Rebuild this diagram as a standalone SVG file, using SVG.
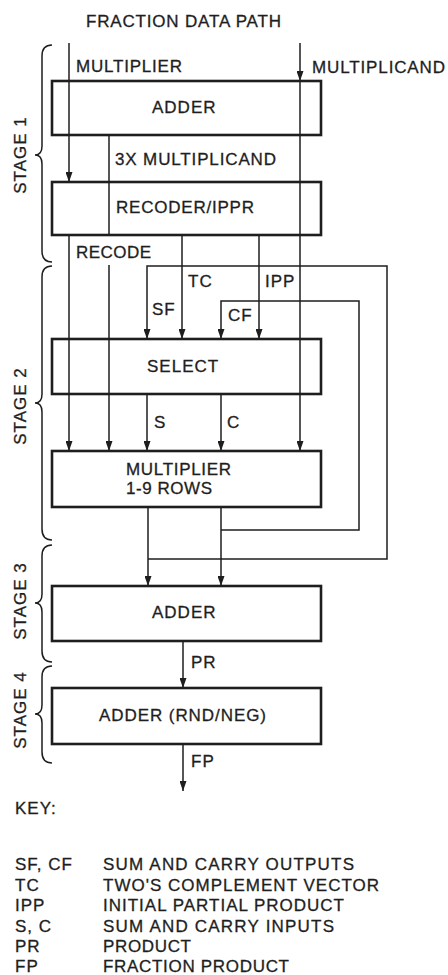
<svg xmlns="http://www.w3.org/2000/svg" width="448" height="975" viewBox="0 0 448 975">
<style>
text{font-family:"Liberation Sans",Arial,Helvetica,sans-serif;font-size:17px;fill:#1e1e1e;stroke:#1e1e1e;stroke-width:0.3;letter-spacing:1px}
.box{fill:none;stroke:#1e1e1e;stroke-width:2.6}
.ln{fill:none;stroke:#1e1e1e;stroke-width:1.5}
.ar{fill:none;stroke:#1e1e1e;stroke-width:1.5;marker-end:url(#ah)}
.br{fill:none;stroke:#1e1e1e;stroke-width:1.5}
</style>
<defs>
<marker id="ah" viewBox="0 0 10 7" refX="10" refY="3.5" markerWidth="10" markerHeight="7" markerUnits="userSpaceOnUse" orient="auto"><path d="M0,0 L10,3.5 L0,7 z" fill="#1e1e1e"/></marker>
</defs>
<rect width="448" height="975" fill="#ffffff"/>
<text x="86" y="27" textLength="196" lengthAdjust="spacing">FRACTION DATA PATH</text>

<g id="connectors">
<line class="ar" x1="69" y1="43" x2="69" y2="182"/>
<line class="ar" x1="300" y1="43" x2="300" y2="81"/>
<line class="ar" x1="300" y1="81" x2="300" y2="451"/>
<line class="ln" x1="109" y1="135" x2="109" y2="235"/>
<line class="ar" x1="69" y1="235" x2="69" y2="451"/>
<line class="ar" x1="109" y1="265" x2="109" y2="451"/>
<line class="ar" x1="182" y1="235" x2="182" y2="339"/>
<line class="ar" x1="259" y1="235" x2="259" y2="339"/>
<path class="ar" d="M148,559 L387,559 L387,266 L147,266 L147,339"/>
<path class="ar" d="M221,530 L359,530 L359,301 L221,301 L221,339"/>
<line class="ar" x1="147" y1="394" x2="147" y2="451"/>
<line class="ar" x1="221" y1="394" x2="221" y2="451"/>
<line class="ar" x1="148" y1="507" x2="148" y2="586"/>
<line class="ar" x1="221" y1="507" x2="221" y2="586"/>
<line class="ar" x1="183" y1="641" x2="183" y2="688"/>
<line class="ar" x1="183" y1="744" x2="183" y2="791"/>
<text x="76" y="72" textLength="107" lengthAdjust="spacing">MULTIPLIER</text>
<text x="312" y="73" textLength="134" lengthAdjust="spacing">MULTIPLICAND</text>
<text x="115" y="165" textLength="162" lengthAdjust="spacing">3X MULTIPLICAND</text>
<text x="76" y="258" textLength="76" lengthAdjust="spacing">RECODE</text>
<text x="188" y="287">TC</text>
<text x="265" y="287">IPP</text>
<text x="152" y="315">SF</text>
<text x="228" y="321">CF</text>
<text x="154" y="428">S</text>
<text x="227" y="428">C</text>
<text x="191" y="668">PR</text>
<text x="191" y="767">FP</text>
</g>

<g id="adder1">
<rect class="box" x="52" y="81" width="269" height="54"/>
<text x="152" y="113">ADDER</text>
</g>
<g id="recoder">
<rect class="box" x="52" y="182" width="269" height="53"/>
<text x="116" y="213" textLength="139" lengthAdjust="spacing">RECODER/IPPR</text>
</g>
<g id="select">
<rect class="box" x="52" y="339" width="269" height="55"/>
<text x="147" y="372">SELECT</text>
</g>
<g id="multrows">
<rect class="box" x="52" y="451" width="269" height="56"/>
<text x="126" y="475" textLength="106" lengthAdjust="spacing">MULTIPLIER</text>
<text x="126" y="494" textLength="87" lengthAdjust="spacing">1-9 ROWS</text>
</g>
<g id="adder3">
<rect class="box" x="52" y="586" width="269" height="55"/>
<text x="152" y="618">ADDER</text>
</g>
<g id="adder4">
<rect class="box" x="52" y="688" width="269" height="56"/>
<text x="99" y="721" textLength="168" lengthAdjust="spacing">ADDER (RND/NEG)</text>
</g>

<g id="stages">
<path class="br" d="M52,45 Q42,45 42,56 L42,146 Q42,155 35,155 Q42,155 42,164 L42,251 Q42,262 52,262"/>
<path class="br" d="M52,266 Q42,266 42,277 L42,394 Q42,403 35,403 Q42,403 42,412 L42,529 Q42,540 52,540"/>
<path class="br" d="M52,545 Q42,545 42,556 L42,594 Q42,603 35,603 Q42,603 42,612 L42,651 Q42,662 52,662"/>
<path class="br" d="M52,666 Q42,666 42,677 L42,705 Q42,714 35,714 Q42,714 42,723 L42,752 Q42,763 52,763"/>
<text transform="translate(26,155) rotate(-90)" text-anchor="middle">STAGE 1</text>
<text transform="translate(26,406) rotate(-90)" text-anchor="middle">STAGE 2</text>
<text transform="translate(26,601) rotate(-90)" text-anchor="middle">STAGE 3</text>
<text transform="translate(26,710) rotate(-90)" text-anchor="middle">STAGE 4</text>
</g>

<g id="key">
<text x="15" y="814">KEY:</text>
<text x="15" y="870">SF, CF</text>
<text x="15" y="891">TC</text>
<text x="15" y="911">IPP</text>
<text x="15" y="932">S, C</text>
<text x="15" y="952">PR</text>
<text x="15" y="972">FP</text>
<text x="103" y="870" textLength="252" lengthAdjust="spacing">SUM AND CARRY OUTPUTS</text>
<text x="103" y="891" textLength="277" lengthAdjust="spacing">TWO'S COMPLEMENT VECTOR</text>
<text x="103" y="911" textLength="242" lengthAdjust="spacing">INITIAL PARTIAL PRODUCT</text>
<text x="103" y="932" textLength="232" lengthAdjust="spacing">SUM AND CARRY INPUTS</text>
<text x="103" y="952" textLength="89" lengthAdjust="spacing">PRODUCT</text>
<text x="103" y="972" textLength="187" lengthAdjust="spacing">FRACTION PRODUCT</text>
</g>
</svg>
